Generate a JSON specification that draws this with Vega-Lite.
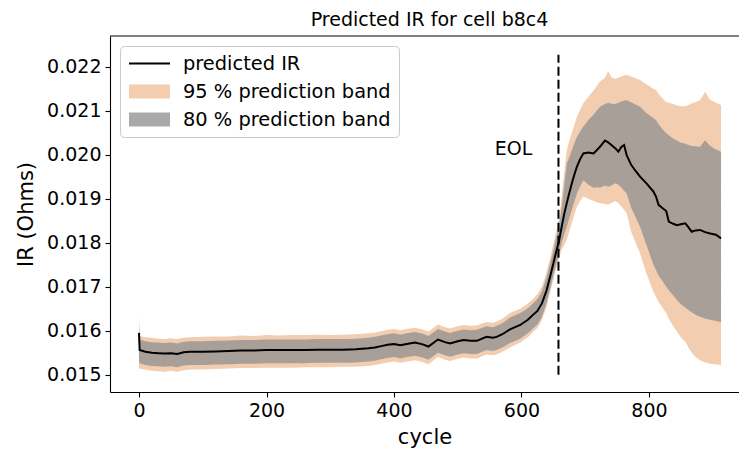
{
  "$schema": "https://vega.github.io/schema/vega-lite/v6.json",
  "autosize": "none",
  "padding": {"left": 110, "top": 36, "right": 0, "bottom": 60},
  "width": 629,
  "height": 356,
  "title": {"text": "Predicted IR for cell b8c4", "fontSize": 19, "font": "DejaVu Sans", "fontWeight": "normal", "anchor": "middle", "dx": 5, "offset": 5, "color": "black"},
  "config": {
    "view": {"stroke": null},
    "font": "DejaVu Sans",
    "axis": {"domainColor": "black", "domainWidth": 1.1, "tickColor": "black", "tickWidth": 1.1, "tickSize": 5, "labelColor": "black", "titleColor": "black", "grid": false, "labelFont": "DejaVu Sans", "titleFont": "DejaVu Sans", "labelFontSize": 19, "titleFontSize": 21, "titleFontWeight": "normal", "labelPadding": 4}
  },
  "datasets": {
    "main": [
      {"c":0,"ir":0.01595,"h95":0.01635,"h80":0.01615,"l80":0.01530,"l95":0.01512},
      {"c":1,"ir":0.01556,"h95":0.01588,"h80":0.01580,"l80":0.01526,"l95":0.01514},
      {"c":10,"ir":0.01552,"h95":0.01585,"h80":0.01576,"l80":0.01522,"l95":0.01511},
      {"c":20,"ir":0.01550,"h95":0.01584,"h80":0.01574,"l80":0.01520,"l95":0.01509},
      {"c":30,"ir":0.01549,"h95":0.01582,"h80":0.01573,"l80":0.01519,"l95":0.01508},
      {"c":40,"ir":0.01548,"h95":0.01581,"h80":0.01572,"l80":0.01518,"l95":0.01507},
      {"c":50,"ir":0.01549,"h95":0.01583,"h80":0.01573,"l80":0.01519,"l95":0.01509},
      {"c":60,"ir":0.01547,"h95":0.01581,"h80":0.01571,"l80":0.01517,"l95":0.01507},
      {"c":70,"ir":0.01551,"h95":0.01584,"h80":0.01575,"l80":0.01521,"l95":0.01510},
      {"c":80,"ir":0.01552,"h95":0.01585,"h80":0.01576,"l80":0.01522,"l95":0.01512},
      {"c":100,"ir":0.01552,"h95":0.01586,"h80":0.01576,"l80":0.01522,"l95":0.01512},
      {"c":120,"ir":0.01553,"h95":0.01587,"h80":0.01577,"l80":0.01523,"l95":0.01513},
      {"c":140,"ir":0.01554,"h95":0.01587,"h80":0.01578,"l80":0.01524,"l95":0.01514},
      {"c":160,"ir":0.01555,"h95":0.01589,"h80":0.01579,"l80":0.01525,"l95":0.01515},
      {"c":180,"ir":0.01555,"h95":0.01588,"h80":0.01579,"l80":0.01525,"l95":0.01515},
      {"c":200,"ir":0.01556,"h95":0.01590,"h80":0.01580,"l80":0.01526,"l95":0.01516},
      {"c":220,"ir":0.01556,"h95":0.01589,"h80":0.01580,"l80":0.01526,"l95":0.01516},
      {"c":240,"ir":0.01556,"h95":0.01590,"h80":0.01580,"l80":0.01526,"l95":0.01516},
      {"c":260,"ir":0.01556,"h95":0.01590,"h80":0.01580,"l80":0.01526,"l95":0.01517},
      {"c":280,"ir":0.01557,"h95":0.01591,"h80":0.01581,"l80":0.01527,"l95":0.01517},
      {"c":300,"ir":0.01557,"h95":0.01590,"h80":0.01581,"l80":0.01527,"l95":0.01517},
      {"c":320,"ir":0.01557,"h95":0.01591,"h80":0.01581,"l80":0.01527,"l95":0.01518},
      {"c":340,"ir":0.01558,"h95":0.01592,"h80":0.01582,"l80":0.01528,"l95":0.01518},
      {"c":360,"ir":0.01560,"h95":0.01594,"h80":0.01584,"l80":0.01530,"l95":0.01520},
      {"c":370,"ir":0.01562,"h95":0.01596,"h80":0.01586,"l80":0.01532,"l95":0.01522},
      {"c":380,"ir":0.01565,"h95":0.01599,"h80":0.01589,"l80":0.01535,"l95":0.01525},
      {"c":390,"ir":0.01568,"h95":0.01602,"h80":0.01592,"l80":0.01538,"l95":0.01528},
      {"c":400,"ir":0.01570,"h95":0.01604,"h80":0.01594,"l80":0.01540,"l95":0.01530},
      {"c":410,"ir":0.01567,"h95":0.01601,"h80":0.01591,"l80":0.01537,"l95":0.01527},
      {"c":420,"ir":0.01570,"h95":0.01604,"h80":0.01594,"l80":0.01540,"l95":0.01530},
      {"c":433,"ir":0.01573,"h95":0.01607,"h80":0.01597,"l80":0.01543,"l95":0.01533},
      {"c":445,"ir":0.01569,"h95":0.01603,"h80":0.01593,"l80":0.01539,"l95":0.01529},
      {"c":454,"ir":0.01564,"h95":0.01598,"h80":0.01588,"l80":0.01534,"l95":0.01524},
      {"c":469,"ir":0.01580,"h95":0.01614,"h80":0.01604,"l80":0.01550,"l95":0.01540},
      {"c":480,"ir":0.01574,"h95":0.01608,"h80":0.01598,"l80":0.01544,"l95":0.01534},
      {"c":488,"ir":0.01571,"h95":0.01605,"h80":0.01595,"l80":0.01541,"l95":0.01531},
      {"c":500,"ir":0.01576,"h95":0.01610,"h80":0.01600,"l80":0.01546,"l95":0.01536},
      {"c":509,"ir":0.01579,"h95":0.01613,"h80":0.01603,"l80":0.01549,"l95":0.01539},
      {"c":520,"ir":0.01577,"h95":0.01611,"h80":0.01601,"l80":0.01547,"l95":0.01537},
      {"c":530,"ir":0.01577,"h95":0.01612,"h80":0.01602,"l80":0.01547,"l95":0.01537},
      {"c":545,"ir":0.01586,"h95":0.01620,"h80":0.01610,"l80":0.01556,"l95":0.01546},
      {"c":555,"ir":0.01584,"h95":0.01618,"h80":0.01608,"l80":0.01554,"l95":0.01544},
      {"c":561,"ir":0.01586,"h95":0.01621,"h80":0.01611,"l80":0.01556,"l95":0.01546},
      {"c":570,"ir":0.01592,"h95":0.01627,"h80":0.01617,"l80":0.01562,"l95":0.01552},
      {"c":582,"ir":0.01603,"h95":0.01640,"h80":0.01630,"l80":0.01572,"l95":0.01562},
      {"c":598,"ir":0.01613,"h95":0.01650,"h80":0.01640,"l80":0.01582,"l95":0.01573},
      {"c":610,"ir":0.01625,"h95":0.01662,"h80":0.01651,"l80":0.01594,"l95":0.01585},
      {"c":618,"ir":0.01636,"h95":0.01672,"h80":0.01662,"l80":0.01605,"l95":0.01597},
      {"c":625,"ir":0.01645,"h95":0.01683,"h80":0.01672,"l80":0.01614,"l95":0.01606},
      {"c":632,"ir":0.01662,"h95":0.01700,"h80":0.01689,"l80":0.01632,"l95":0.01624},
      {"c":639,"ir":0.01690,"h95":0.01731,"h80":0.01719,"l80":0.01661,"l95":0.01653},
      {"c":645,"ir":0.01723,"h95":0.01765,"h80":0.01752,"l80":0.01695,"l95":0.01688},
      {"c":650,"ir":0.01753,"h95":0.01797,"h80":0.01783,"l80":0.01725,"l95":0.01717},
      {"c":655,"ir":0.01783,"h95":0.01829,"h80":0.01815,"l80":0.01754,"l95":0.01745},
      {"c":659,"ir":0.01805,"h95":0.01855,"h80":0.01838,"l80":0.01775,"l95":0.01765},
      {"c":663,"ir":0.01836,"h95":0.01905,"h80":0.01880,"l80":0.01800,"l95":0.01785},
      {"c":667,"ir":0.01865,"h95":0.01960,"h80":0.01930,"l80":0.01818,"l95":0.01795},
      {"c":671,"ir":0.01890,"h95":0.02010,"h80":0.01980,"l80":0.01836,"l95":0.01806},
      {"c":675,"ir":0.01913,"h95":0.02032,"h80":0.01995,"l80":0.01856,"l95":0.01826},
      {"c":679,"ir":0.01935,"h95":0.02050,"h80":0.02010,"l80":0.01875,"l95":0.01845},
      {"c":683,"ir":0.01955,"h95":0.02068,"h80":0.02026,"l80":0.01894,"l95":0.01864},
      {"c":687,"ir":0.01973,"h95":0.02086,"h80":0.02041,"l80":0.01912,"l95":0.01882},
      {"c":692,"ir":0.01990,"h95":0.02102,"h80":0.02053,"l80":0.01928,"l95":0.01895},
      {"c":697,"ir":0.02003,"h95":0.02117,"h80":0.02064,"l80":0.01942,"l95":0.01905},
      {"c":705,"ir":0.02005,"h95":0.02132,"h80":0.02079,"l80":0.01932,"l95":0.01900},
      {"c":713,"ir":0.02003,"h95":0.02146,"h80":0.02091,"l80":0.01925,"l95":0.01895},
      {"c":718,"ir":0.02010,"h95":0.02156,"h80":0.02100,"l80":0.01926,"l95":0.01892},
      {"c":723,"ir":0.02018,"h95":0.02166,"h80":0.02109,"l80":0.01925,"l95":0.01890},
      {"c":731,"ir":0.02032,"h95":0.02175,"h80":0.02115,"l80":0.01930,"l95":0.01888},
      {"c":736,"ir":0.02028,"h95":0.02190,"h80":0.02118,"l80":0.01927,"l95":0.01886},
      {"c":741,"ir":0.02022,"h95":0.02176,"h80":0.02116,"l80":0.01930,"l95":0.01890},
      {"c":747,"ir":0.02015,"h95":0.02172,"h80":0.02115,"l80":0.01935,"l95":0.01895},
      {"c":752,"ir":0.02007,"h95":0.02175,"h80":0.02118,"l80":0.01932,"l95":0.01890},
      {"c":757,"ir":0.02018,"h95":0.02178,"h80":0.02121,"l80":0.01925,"l95":0.01882},
      {"c":761,"ir":0.02022,"h95":0.02180,"h80":0.02123,"l80":0.01918,"l95":0.01875},
      {"c":765,"ir":0.01999,"h95":0.02181,"h80":0.02124,"l80":0.01912,"l95":0.01867},
      {"c":772,"ir":0.01977,"h95":0.02178,"h80":0.02119,"l80":0.01880,"l95":0.01825},
      {"c":779,"ir":0.01963,"h95":0.02174,"h80":0.02114,"l80":0.01858,"l95":0.01800},
      {"c":786,"ir":0.01950,"h95":0.02170,"h80":0.02109,"l80":0.01836,"l95":0.01776},
      {"c":796,"ir":0.01935,"h95":0.02160,"h80":0.02095,"l80":0.01795,"l95":0.01730},
      {"c":807,"ir":0.01916,"h95":0.02150,"h80":0.02083,"l80":0.01750,"l95":0.01688},
      {"c":811,"ir":0.01905,"h95":0.02147,"h80":0.02079,"l80":0.01738,"l95":0.01677},
      {"c":815,"ir":0.01886,"h95":0.02138,"h80":0.02069,"l80":0.01725,"l95":0.01665},
      {"c":820,"ir":0.01880,"h95":0.02130,"h80":0.02060,"l80":0.01715,"l95":0.01655},
      {"c":827,"ir":0.01872,"h95":0.02120,"h80":0.02049,"l80":0.01700,"l95":0.01640},
      {"c":831,"ir":0.01848,"h95":0.02118,"h80":0.02044,"l80":0.01692,"l95":0.01628},
      {"c":838,"ir":0.01843,"h95":0.02115,"h80":0.02037,"l80":0.01680,"l95":0.01610},
      {"c":844,"ir":0.01840,"h95":0.02112,"h80":0.02032,"l80":0.01670,"l95":0.01598},
      {"c":850,"ir":0.01842,"h95":0.02110,"h80":0.02028,"l80":0.01660,"l95":0.01585},
      {"c":857,"ir":0.01844,"h95":0.02110,"h80":0.02025,"l80":0.01653,"l95":0.01575},
      {"c":862,"ir":0.01835,"h95":0.02113,"h80":0.02022,"l80":0.01647,"l95":0.01562},
      {"c":867,"ir":0.01825,"h95":0.02117,"h80":0.02020,"l80":0.01642,"l95":0.01550},
      {"c":873,"ir":0.01828,"h95":0.02120,"h80":0.02019,"l80":0.01636,"l95":0.01540},
      {"c":880,"ir":0.01829,"h95":0.02124,"h80":0.02018,"l80":0.01632,"l95":0.01533},
      {"c":888,"ir":0.01824,"h95":0.02143,"h80":0.02033,"l80":0.01628,"l95":0.01528},
      {"c":896,"ir":0.01821,"h95":0.02125,"h80":0.02020,"l80":0.01625,"l95":0.01525},
      {"c":905,"ir":0.01818,"h95":0.02118,"h80":0.02012,"l80":0.01622,"l95":0.01523},
      {"c":913,"ir":0.01810,"h95":0.02113,"h80":0.02007,"l80":0.01620,"l95":0.01522}
    ],
    "eol": [{"x": 658, "y1": 0.015, "y2": 0.02227, "tx": 558, "ty": 0.02, "label": "EOL"}]
  },
  "layer": [
    {
      "data": {"name": "main"},
      "mark": {"type": "area", "opacity": 1},
      "encoding": {
        "x": {"field": "c", "type": "quantitative", "scale": {"domain": [-45.5, 941.2], "nice": false, "zero": false}, "axis": {"values": [0, 200, 400, 600, 800], "title": "cycle", "titlePadding": 6}},
        "y": {"field": "l95", "type": "quantitative", "scale": {"domain": [0.014607, 0.022698], "nice": false, "zero": false}, "axis": {"values": [0.015, 0.016, 0.017, 0.018, 0.019, 0.02, 0.021, 0.022], "format": ".3f", "title": "IR (Ohms)", "titlePadding": 10}},
        "y2": {"field": "h95"},
        "color": {
          "datum": "95 % prediction band",
          "type": "nominal",
          "scale": {"domain": ["predicted IR", "95 % prediction band", "80 % prediction band"], "range": ["black", "#f2cdb0", "#a9a9a9"]},
          "legend": {
            "title": null,
            "orient": "top-left",
            "offset": 10,
            "padding": 8,
            "labelFontSize": 19.4,
            "labelFont": "DejaVu Sans",
            "labelColor": "black",
            "rowPadding": 8,
            "clipHeight": 19,
            "labelOffset": 12,
            "strokeColor": "#cccccc",
            "fillColor": "white",
            "cornerRadius": 4,
            "labelLimit": 400,
            "symbolSize": 1681,
            "symbolStrokeWidth": 2,
            "symbolOpacity": 1,
            "symbolType": {"expr": "datum.label == 'predicted IR' ? 'stroke' : 'M-0.95,-0.29H0.95V0.29H-0.95Z'"}
          }
        }
      }
    },
    {
      "data": {"name": "main"},
      "mark": {"type": "area", "opacity": 1, "color": "#a89f99"},
      "encoding": {
        "x": {"field": "c", "type": "quantitative"},
        "y": {"field": "l80", "type": "quantitative"},
        "y2": {"field": "h80"}
      }
    },
    {
      "data": {"name": "main"},
      "mark": {"type": "line", "strokeWidth": 2},
      "encoding": {
        "x": {"field": "c", "type": "quantitative"},
        "y": {"field": "ir", "type": "quantitative"},
        "color": {"datum": "predicted IR", "type": "nominal"}
      }
    },
    {
      "data": {"name": "eol"},
      "mark": {"type": "rule", "strokeDash": [9, 4], "strokeWidth": 2, "color": "black"},
      "encoding": {
        "x": {"field": "x", "type": "quantitative"},
        "y": {"field": "y1", "type": "quantitative"},
        "y2": {"field": "y2"}
      }
    },
    {
      "data": {"name": "eol"},
      "mark": {"type": "text", "align": "left", "baseline": "alphabetic", "fontSize": 19, "font": "DejaVu Sans", "color": "black"},
      "encoding": {
        "x": {"field": "tx", "type": "quantitative"},
        "y": {"field": "ty", "type": "quantitative"},
        "text": {"field": "label"}
      }
    },
    {
      "data": {"name": "eol"},
      "mark": {"type": "rule", "color": "black", "strokeWidth": 1.1},
      "encoding": {
        "y": {"datum": 0.022698}
      }
    }
  ]
}
